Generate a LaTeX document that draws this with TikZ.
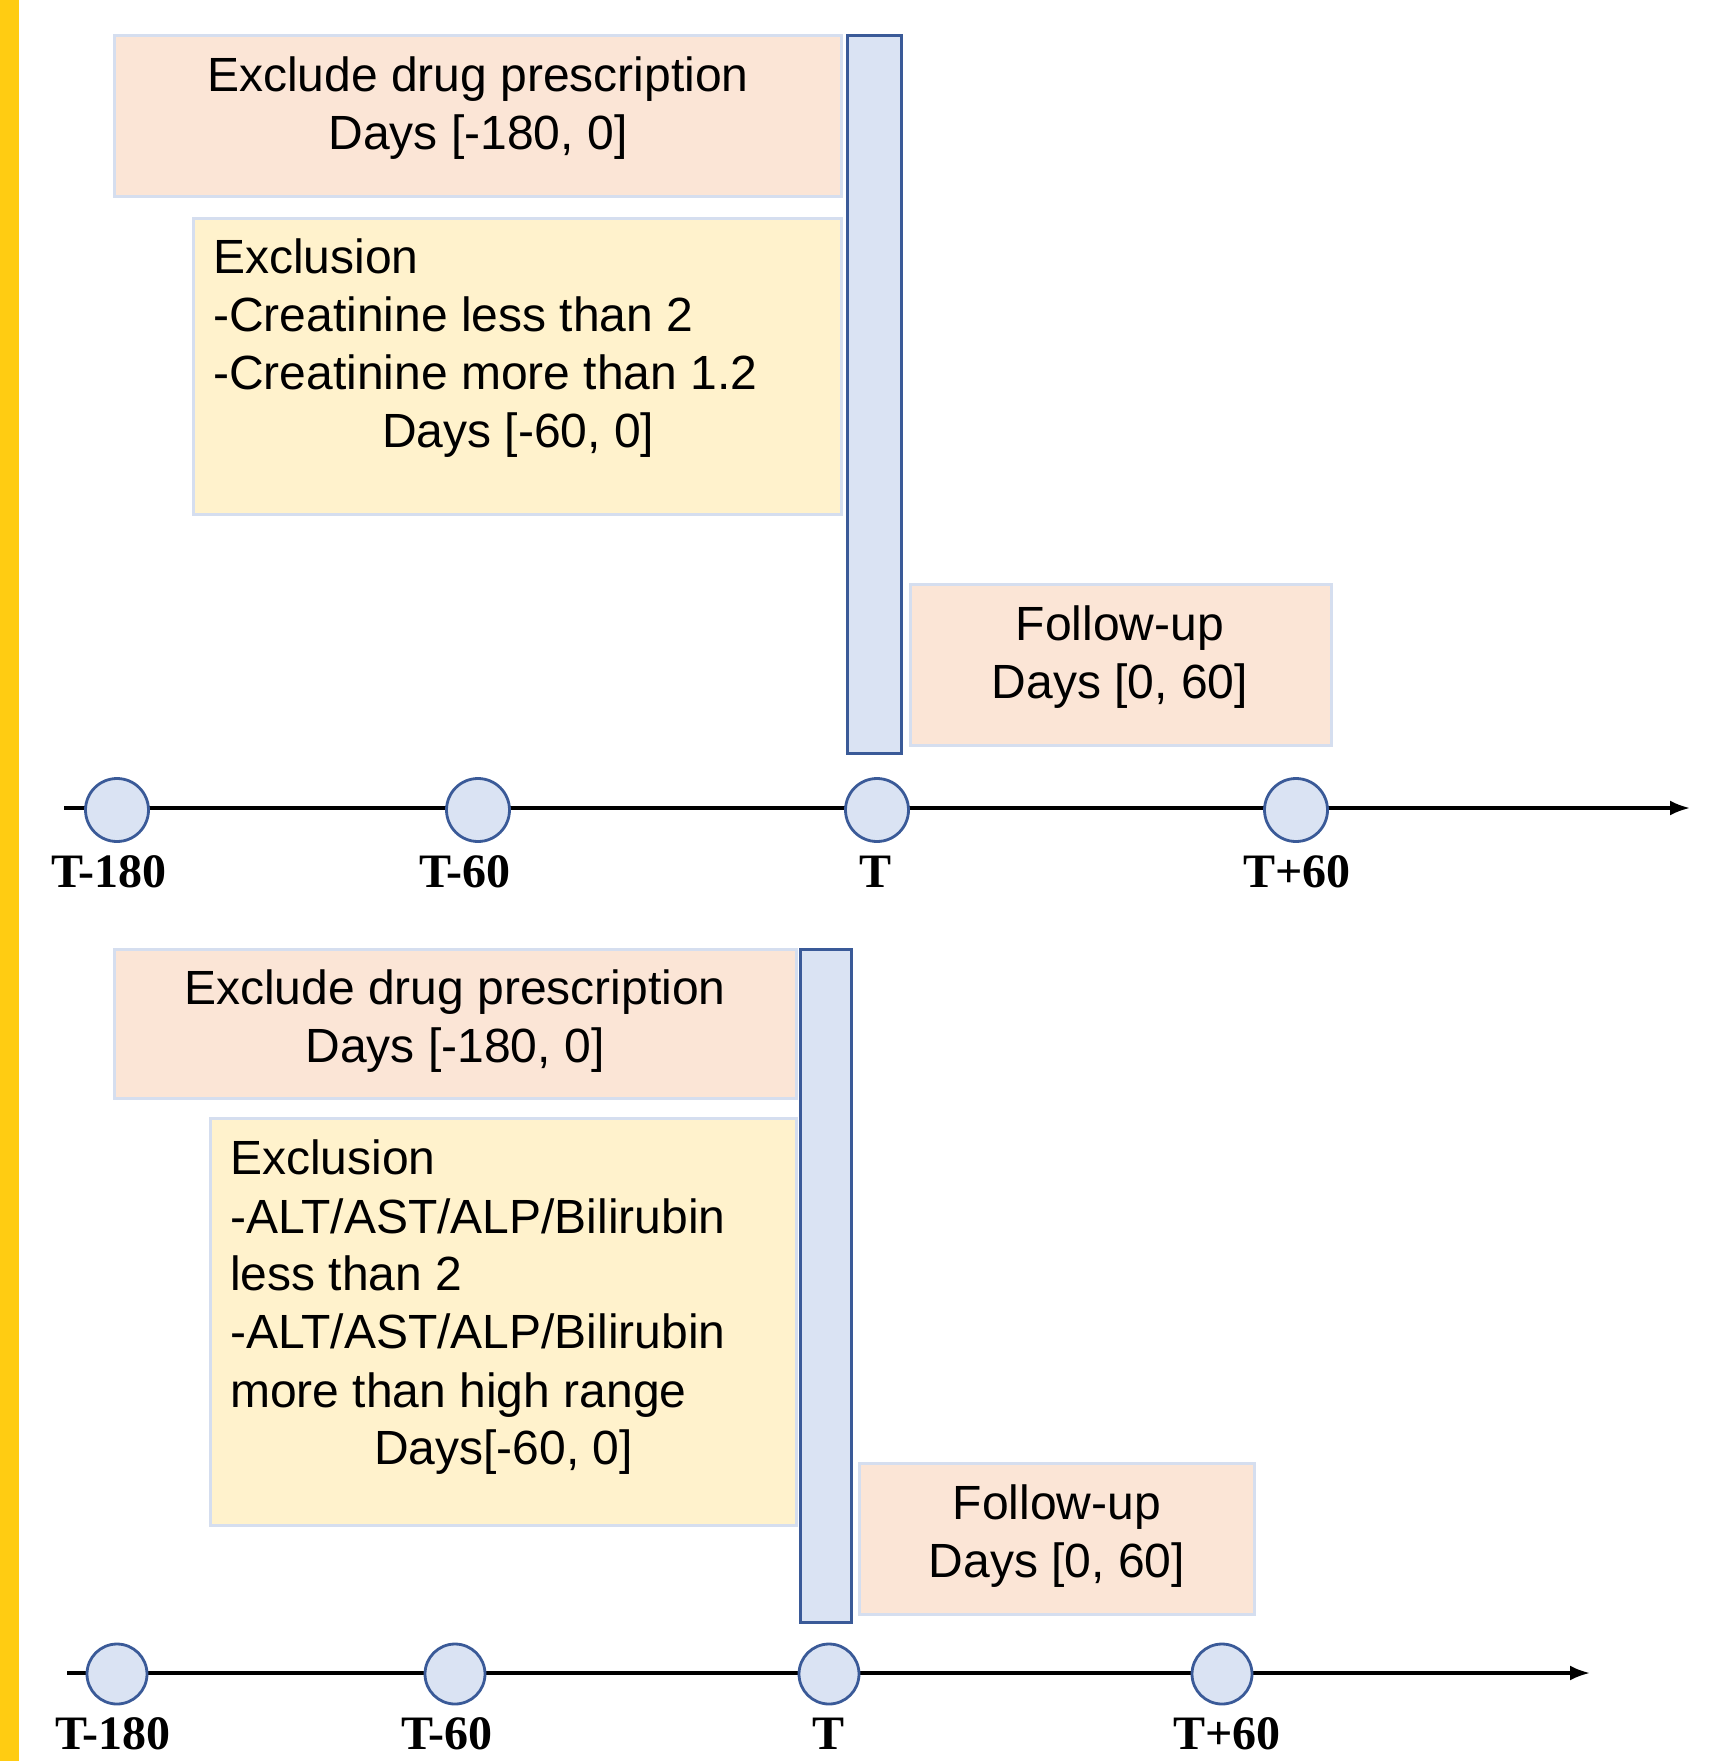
\documentclass[tikz,border=0pt]{standalone}
\usepackage{fontspec}
\setmainfont{Liberation Sans}
\newfontfamily\lblfont{Liberation Serif}
\usetikzlibrary{arrows.meta}
\definecolor{peach}{HTML}{FBE5D6}
\definecolor{paleyellow}{HTML}{FFF2CC}
\definecolor{paleblue}{HTML}{DAE3F3}
\definecolor{edgeblue}{HTML}{D5DEEF}
\definecolor{darkblue}{HTML}{3A5A98}
\definecolor{gold}{HTML}{FFCC12}
\tikzset{
  boxtext/.style={inner sep=0pt, font=\fontsize{48}{58}\selectfont},
  peachbox/.style={draw=edgeblue, fill=peach, line width=3pt},
  yellowbox/.style={draw=edgeblue, fill=paleyellow, line width=3pt},
  tbar/.style={draw=darkblue, fill=paleblue, line width=3pt},
  tick/.style={circle, draw=darkblue, fill=paleblue, line width=2.8pt, minimum size=#1, inner sep=0pt},
  ticklabel/.style={inner sep=0pt, font=\lblfont\bfseries\fontsize{48}{58}\selectfont},
  axis/.style={line width=3.2pt, -{Latex[length=20pt,width=15pt]}}
}
\begin{document}
\begin{tikzpicture}[x=1pt,y=-1pt]
\useasboundingbox (0,0) rectangle (1708,1761);
\fill[white] (0,0) rectangle (1708,1761);
\fill[gold] (0,0) rectangle (19,1761);

% ---------- top panel ----------
\draw[peachbox] (114.5,36) rectangle (841,196.5);
\node[boxtext, align=center] (t1) at (478,108.5) {Exclude drug prescription\\Days [-180, 0]};
\draw[yellowbox] (193,218) rectangle (841,514);
\node[boxtext, align=left, anchor=north west] (t2) at (213,239)
  {Exclusion\\-Creatinine less than 2\\-Creatinine more than 1.2\\\hspace*{169pt}Days [-60, 0]};
\draw[tbar] (847,36) rectangle (901,753);
\draw[peachbox] (910,584) rectangle (1331,745);
\node[boxtext, align=center] (t3) at (1120,657.5) {Follow-up\\Days [0, 60]};

\coordinate (a1s) at (64,808);
\coordinate (a1e) at (1690,808);
\draw[axis] (a1s) -- (a1e);
\node[tick=63pt] (c11) at (117,810) {};
\node[tick=63pt] (c12) at (478,810) {};
\node[tick=63pt] (c13) at (877,810) {};
\node[tick=63pt] (c14) at (1296,810) {};
\node[ticklabel] (l11) at (109,872) {T-180};
\node[ticklabel] (l12) at (465,872) {T-60};
\node[ticklabel] (l13) at (875,872) {T};
\node[ticklabel] (l14) at (1297,872) {T+60};

% ---------- bottom panel ----------
\draw[peachbox] (114.5,949) rectangle (796,1098);
\node[boxtext, align=center] (b1) at (455,1021.5) {Exclude drug prescription\\Days [-180, 0]};
\draw[yellowbox] (210,1118.5) rectangle (796,1525);
\node[boxtext, align=left, anchor=north west] (b2) at (230,1140)
  {Exclusion\\-ALT/AST/ALP/Bilirubin\\less than 2\\-ALT/AST/ALP/Bilirubin\\more than high range\\\hspace*{144pt}Days[-60, 0]};
\draw[tbar] (800,949) rectangle (851,1622);
\draw[peachbox] (859,1463) rectangle (1254,1614);
\node[boxtext, align=center] (b3) at (1057,1536.5) {Follow-up\\Days [0, 60]};

\coordinate (a2s) at (67,1673);
\coordinate (a2e) at (1590,1673);
\draw[axis] (a2s) -- (a2e);
\node[tick=60pt] (c21) at (117,1674) {};
\node[tick=60pt] (c22) at (455,1674) {};
\node[tick=60pt] (c23) at (829,1674) {};
\node[tick=60pt] (c24) at (1222,1674) {};
\node[ticklabel] (l21) at (113,1734) {T-180};
\node[ticklabel] (l22) at (447,1734) {T-60};
\node[ticklabel] (l23) at (828,1734) {T};
\node[ticklabel] (l24) at (1227,1734) {T+60};
\end{tikzpicture}
\end{document}
